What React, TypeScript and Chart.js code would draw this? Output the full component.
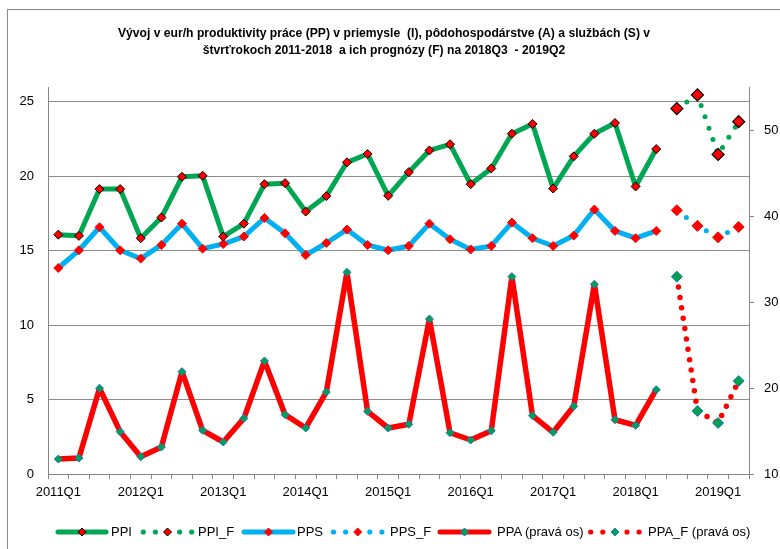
import React, { useEffect, useRef } from 'react';
import { Chart, registerables } from 'chart.js';

Chart.register(...registerables);

const categories = [
  '2011Q1', '2011Q2', '2011Q3', '2011Q4',
  '2012Q1', '2012Q2', '2012Q3', '2012Q4',
  '2013Q1', '2013Q2', '2013Q3', '2013Q4',
  '2014Q1', '2014Q2', '2014Q3', '2014Q4',
  '2015Q1', '2015Q2', '2015Q3', '2015Q4',
  '2016Q1', '2016Q2', '2016Q3', '2016Q4',
  '2017Q1', '2017Q2', '2017Q3', '2017Q4',
  '2018Q1', '2018Q2', '2018Q3', '2018Q4',
  '2019Q1', '2019Q2',
];
const xTickLabels = ['2011Q1', '2012Q1', '2013Q1', '2014Q1', '2015Q1', '2016Q1', '2017Q1', '2018Q1', '2019Q1'];
const leftTicks = [0, 5, 10, 15, 20, 25];
const rightTicks = [10, 20, 30, 40, 50];

// actual values 2011Q1 - 2018Q2
const ppi = [16.08, 16.0, 19.14, 19.14, 15.84, 17.23, 19.97, 20.04, 15.95, 16.82, 19.47, 19.54, 17.63, 18.67, 20.94, 21.5, 18.69, 20.28, 21.74, 22.15, 19.47, 20.53, 22.86, 23.52, 19.18, 21.34, 22.86, 23.58, 19.32, 21.83];
const pps = [13.84, 15.03, 16.58, 15.03, 14.47, 15.39, 16.82, 15.14, 15.45, 15.95, 17.2, 16.17, 14.71, 15.52, 16.42, 15.39, 15.03, 15.32, 16.82, 15.77, 15.09, 15.32, 16.89, 15.84, 15.32, 16.02, 17.77, 16.33, 15.84, 16.33];
const ppa = [11.74, 11.86, 19.97, 14.92, 12.01, 13.14, 21.9, 15.08, 13.72, 16.47, 23.14, 16.9, 15.35, 19.53, 33.45, 17.29, 15.35, 15.78, 28.02, 14.8, 13.95, 15.03, 32.95, 16.78, 14.85, 17.87, 32.06, 16.31, 15.66, 19.8];
// forecasts 2018Q3 - 2019Q2
const ppiF = [24.55, 25.47, 21.47, 23.67];
const ppsF = [17.72, 16.67, 15.9, 16.6];
const ppaF = [32.95, 17.33, 15.93, 20.81];

const GREEN = '#00A651';
const BLUE = '#00B0F0';
const RED = '#FF0000';
const PPA_MARK = '#00A04E';
const PPA_MARK_BORDER = '#1E78C8';
const AXIS = '#868686';
const FONT = "'Liberation Sans', Arial, sans-serif";

const padActual = (a: number[]) => categories.map((_, i) => (i < a.length ? a[i] : null));
const padForecast = (a: number[]) => categories.map((_, i) => {
  const k = i - (categories.length - a.length);
  return k >= 0 ? a[k] : null;
});

const Diamond = ({ cx, cy, r, fill, stroke, sw }: any) => (
  <polygon
    points={`${cx},${cy - r} ${cx + r},${cy} ${cx},${cy + r} ${cx - r},${cy}`}
    fill={fill}
    stroke={stroke}
    strokeWidth={sw}
  />
);

export default function App() {
  const ref = useRef<HTMLCanvasElement | null>(null);

  useEffect(() => {
    if (!ref.current) return;
    const common = { borderJoinStyle: 'round', tension: 0 };
    const chart = new Chart(ref.current, {
      type: 'line',
      data: {
        labels: categories,
        datasets: [
          {
            ...common,
            label: 'PPI',
            data: padActual(ppi),
            borderColor: GREEN,
            borderWidth: 5,
            pointStyle: 'rectRot',
            pointRadius: 4.5,
            pointBackgroundColor: RED,
            pointBorderColor: '#000',
            pointBorderWidth: 1,
            yAxisID: 'y',
          },
          {
            ...common,
            label: 'PPI_F',
            data: padForecast(ppiF),
            borderColor: GREEN,
            borderWidth: 5,
            borderDash: [0, 12],
            borderCapStyle: 'round',
            pointStyle: 'rectRot',
            pointRadius: 6,
            pointBackgroundColor: RED,
            pointBorderColor: '#000',
            pointBorderWidth: 1.2,
            yAxisID: 'y',
          },
          {
            ...common,
            label: 'PPS',
            data: padActual(pps),
            borderColor: BLUE,
            borderWidth: 5,
            pointStyle: 'rectRot',
            pointRadius: 4.5,
            pointBackgroundColor: RED,
            pointBorderColor: RED,
            pointBorderWidth: 1,
            yAxisID: 'y',
          },
          {
            ...common,
            label: 'PPS_F',
            data: padForecast(ppsF),
            borderColor: BLUE,
            borderWidth: 5,
            borderDash: [0, 12],
            borderCapStyle: 'round',
            pointStyle: 'rectRot',
            pointRadius: 5.5,
            pointBackgroundColor: RED,
            pointBorderColor: RED,
            pointBorderWidth: 1,
            yAxisID: 'y',
          },
          {
            ...common,
            label: 'PPA (pravá os)',
            data: padActual(ppa),
            borderColor: RED,
            borderWidth: 5.5,
            pointStyle: 'rectRot',
            pointRadius: 4,
            pointBackgroundColor: PPA_MARK,
            pointBorderColor: PPA_MARK_BORDER,
            pointBorderWidth: 1,
            yAxisID: 'y1',
          },
          {
            ...common,
            label: 'PPA_F (pravá os)',
            data: padForecast(ppaF),
            borderColor: RED,
            borderWidth: 5.5,
            borderDash: [0, 10.5],
            borderCapStyle: 'round',
            pointStyle: 'rectRot',
            pointRadius: 5.5,
            pointBackgroundColor: PPA_MARK,
            pointBorderColor: PPA_MARK_BORDER,
            pointBorderWidth: 1,
            yAxisID: 'y1',
          },
        ],
      },
      options: {
        animation: false,
        responsive: false,
        maintainAspectRatio: false,
        layout: { padding: { top: 87, left: 0, right: 0, bottom: 0 } },
        plugins: {
          legend: { display: false },
          title: { display: false },
          tooltip: { enabled: false },
        },
        scales: {
          x: {
            type: 'category',
            offset: true,
            grid: { offset: true, drawOnChartArea: false, drawTicks: true, tickLength: 5, color: AXIS },
            border: { display: true, color: AXIS, width: 1 },
            ticks: {
              autoSkip: false,
              maxRotation: 0,
              minRotation: 0,
              padding: 6,
              color: '#000',
              font: { family: FONT, size: 13 },
              callback: (_v: any, i: number) => (xTickLabels.includes(categories[i]) ? categories[i] : ''),
            },
            afterFit: (s: any) => { s.height = 75; },
          },
          y: {
            position: 'left',
            min: 0,
            max: 26,
            afterBuildTicks: (s: any) => { s.ticks = leftTicks.map((v) => ({ value: v })); },
            grid: { color: '#8c8c8c', drawTicks: false, lineWidth: 1 },
            border: { display: true, color: AXIS, width: 1 },
            ticks: { padding: 14, color: '#000', font: { family: FONT, size: 13 } },
            afterFit: (s: any) => { s.width = 48; },
          },
          y1: {
            position: 'right',
            min: 10,
            max: 55,
            afterBuildTicks: (s: any) => { s.ticks = rightTicks.map((v) => ({ value: v })); },
            grid: { drawOnChartArea: false, drawTicks: true, tickLength: 5, color: AXIS },
            border: { display: true, color: AXIS, width: 1 },
            ticks: { padding: 10, color: '#000', font: { family: FONT, size: 13 } },
            afterFit: (s: any) => { s.width = 31; },
          },
        },
      },
    } as any);
    return () => chart.destroy();
  }, []);

  const legendY = 532;
  const textStyle: React.CSSProperties = {
    position: 'absolute',
    top: legendY - 8,
    lineHeight: '16px',
    fontFamily: FONT,
    fontSize: 13,
    color: '#000',
    whiteSpace: 'nowrap',
  };
  const dots = (x0: number, color: string) => [0, 1, 3, 4].map((k) => (
    <circle key={k} cx={x0 + k * 12.1} cy={legendY} r={2.6} fill={color} />
  ));

  return (
    <div style={{ position: 'absolute', left: 0, top: 0, width: 780, height: 549, overflow: 'hidden', background: '#fff' }}>
      <div style={{ position: 'absolute', left: 7, top: 9, width: 800, height: 600, borderLeft: '1px solid #8a8a8a', borderTop: '1px solid #8a8a8a' }} />
      <canvas ref={ref} width={780} height={549} style={{ position: 'absolute', left: 0, top: 0, width: 780, height: 549 }} />
      <div style={{
        position: 'absolute', left: 84, width: 600, top: 24, textAlign: 'center',
        fontFamily: FONT,
        fontWeight: 'bold', fontSize: 13, lineHeight: '17px', color: '#000',
        transform: 'scaleX(0.935)', transformOrigin: '300px 0',
      }}>
        <div>Vývoj v eur/h produktivity práce (PP) v priemysle&nbsp; (I), pôdohospodárstve (A) a službách (S) v</div>
        <div>štvrťrokoch 2011-2018&nbsp; a ich prognózy (F) na 2018Q3&nbsp; - 2019Q2</div>
      </div>
      <svg width={780} height={549} style={{ position: 'absolute', left: 0, top: 0, pointerEvents: 'none' }}>
        <line x1={58} y1={legendY} x2={106} y2={legendY} stroke={GREEN} strokeWidth={5} strokeLinecap="round" />
        <Diamond cx={82} cy={legendY} r={4} fill={RED} stroke="#000" sw={1} />
        {dots(143.3, GREEN)}
        <Diamond cx={167.5} cy={legendY} r={4} fill={RED} stroke="#000" sw={1} />
        <line x1={244} y1={legendY} x2={293} y2={legendY} stroke={BLUE} strokeWidth={5} strokeLinecap="round" />
        <Diamond cx={268.5} cy={legendY} r={4} fill={RED} stroke={RED} sw={1} />
        {dots(333.5, BLUE)}
        <Diamond cx={357.7} cy={legendY} r={4} fill={RED} stroke={RED} sw={1} />
        <line x1={440} y1={legendY} x2={489} y2={legendY} stroke={RED} strokeWidth={5} strokeLinecap="round" />
        <Diamond cx={464.5} cy={legendY} r={4} fill={PPA_MARK} stroke={PPA_MARK_BORDER} sw={1} />
        {dots(590.7, RED)}
        <Diamond cx={614.9} cy={legendY} r={4} fill={PPA_MARK} stroke={PPA_MARK_BORDER} sw={1} />
      </svg>
      <span style={{ ...textStyle, left: 111 }}>PPI</span>
      <span style={{ ...textStyle, left: 198 }}>PPI_F</span>
      <span style={{ ...textStyle, left: 297 }}>PPS</span>
      <span style={{ ...textStyle, left: 390 }}>PPS_F</span>
      <span style={{ ...textStyle, left: 497 }}>PPA (pravá os)</span>
      <span style={{ ...textStyle, left: 648 }}>PPA_F (pravá os)</span>
    </div>
  );
}
